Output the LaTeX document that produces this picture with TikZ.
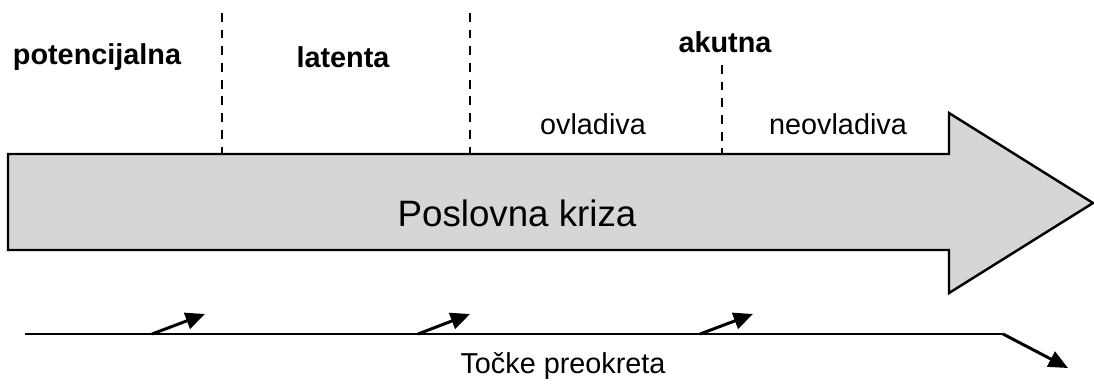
\documentclass[tikz,border=0pt]{standalone}
\usepackage{fontspec}
\setmainfont{Liberation Sans}
\usetikzlibrary{arrows.meta}

\definecolor{crisisgray}{HTML}{D6D6D6}

\tikzset{
    phasetext/.style={font=\fontsize{16.4pt}{18pt}\selectfont\bfseries, inner sep=0pt},
    subtext/.style={font=\fontsize{16.4pt}{18pt}\selectfont, inner sep=0pt},
    bordercut/.style={draw=black, line width=1.6pt, dash pattern=on 5pt off 4.5pt},
    turnarrow/.style={draw=black, line width=1.7pt, -{Triangle[length=11pt,width=9.5pt]}}
}

\begin{document}
\begin{tikzpicture}[x=0.02cm, y=-0.02cm] %pixels
            \useasboundingbox (0,0) rectangle (1094,387);

            % big arrow
            \draw[fill=crisisgray, draw=black, line width=1.4pt]
                (8,154) -- (949,154) -- (949,113) -- (1093,203)
                -- (949,293) -- (949,250) -- (8,250) -- cycle;
            \node[font=\fontsize{20.9pt}{24pt}\selectfont, inner sep=0pt] (kriza) at (517,213) {Poslovna kriza};

            % phase borders
            \draw[bordercut] (222,13) -- (222,154);
            \draw[bordercut] (470,13) -- (470,154);
            \draw[bordercut] (722,65) -- (722,154);

            \node[phasetext] (potenc) at (97,57) {potencijalna};
            \node[phasetext] (latent) at (343,57) {latenta};
            \node[phasetext] (akut) at (725,42) {akutna};
            \node[subtext] (ovlad) at (593,124) {ovladiva};
            \node[subtext] (neovlad) at (838,124) {neovladiva};

            % turning points
            \coordinate (start) at (25,334);
            \coordinate (bend) at (1003,334);
            \coordinate (fall) at (1068,368);
            \draw[black, line width=1.5pt] (start) -- (bend);
            \draw[turnarrow] (bend) -- (fall);

            \coordinate (t1) at (152,334);  \coordinate (h1) at (205,314);
            \coordinate (t2) at (418,334);  \coordinate (h2) at (470,314);
            \coordinate (t3) at (700,334);  \coordinate (h3) at (753,314);
            \draw[turnarrow] (t1) -- (h1);
            \draw[turnarrow] (t2) -- (h2);
            \draw[turnarrow] (t3) -- (h3);

            \node[subtext] (tocke) at (563,366) {Točke preokreta};
        \end{tikzpicture}
\end{document}
